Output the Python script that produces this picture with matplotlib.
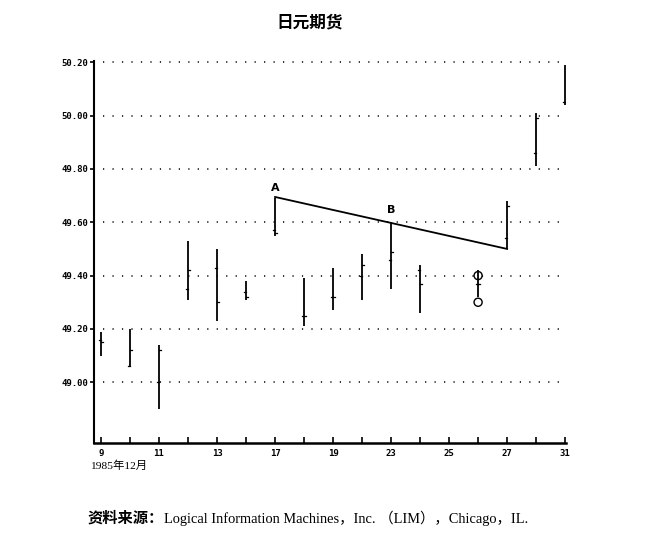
import matplotlib
matplotlib.use("Agg")
import matplotlib.pyplot as plt

# ---- data ----
tick_labels = ['9', '11', '13', '17', '19', '23', '25', '27', '31']
tick_index = [0, 2, 4, 6, 8, 10, 12, 14, 16]
all_ticks = list(range(17))

bar_pos = [0, 1, 2, 3, 4, 5, 6, 7, 8, 9, 10, 11, 13, 14, 15, 16]
highs = [49.19, 49.20, 49.14, 49.53, 49.50, 49.38, 49.69, 49.39, 49.43, 49.48, 49.60, 49.44, 49.42, 49.68, 50.01, 50.19]
lows = [49.10, 49.06, 48.90, 49.31, 49.23, 49.31, 49.55, 49.21, 49.27, 49.31, 49.35, 49.26, 49.32, 49.50, 49.81, 50.04]
opens = [49.16, 49.06, 49.00, 49.35, 49.43, 49.34, 49.57, 49.25, 49.32, 49.40, 49.46, 49.42, 49.37, 49.54, 49.86, 50.05]
closes = [49.15, 49.12, 49.12, 49.42, 49.30, 49.32, 49.56, 49.25, 49.32, 49.44, 49.49, 49.37, 49.37, 49.66, 49.99, 50.05]

circle_pos = [13, 13]
circle_vals = [49.40, 49.30]

trend_x = [6, 14]
trend_y = [49.695, 49.50]

point_labels = ['A', 'B']
point_x = [6, 10]
point_y = [49.73, 49.645]

y_ticks = [49.00, 49.20, 49.40, 49.60, 49.80, 50.00, 50.20]

title = '日元期货'
xlabel = '1985年12月'
source_cn = '资料来源：'
source_en = 'Logical Information Machines，Inc. （LIM），Chicago，IL.'

# ---- figure ----
fig = plt.figure(figsize=(6.61, 5.35), dpi=100)
ax = fig.add_axes([94 / 661, 92 / 535, 472 / 661, 382 / 535])

ax.set_xlim(-0.24, 16.03)
ax.set_ylim(48.772, 50.205)

# grid
for y in y_ticks:
    ax.axhline(y, xmin=0.02, color='black', lw=1.1, linestyle=(0, (0.8, 5.4)), zorder=1)

# bars
tk = 0.06
for x, h, l, o, c in zip(bar_pos, highs, lows, opens, closes):
    ax.plot([x, x], [l, h], color='black', lw=1.3, solid_capstyle='butt', zorder=3)
    ax.plot([x - tk, x], [o, o], color='black', lw=0.9, zorder=3)
    ax.plot([x, x + tk], [c, c], color='black', lw=0.9, zorder=3)

ax.scatter(circle_pos, circle_vals, s=34, facecolors='none', edgecolors='black', linewidths=1.0, zorder=4)

ax.plot(trend_x, trend_y, color='black', lw=1.3, zorder=3)

for t, x, y in zip(point_labels, point_x, point_y):
    ax.text(x, y, t, ha='center', va='center', fontsize=8, fontweight='bold', family='DejaVu Sans')

# axes styling
for s in ['top', 'right']:
    ax.spines[s].set_visible(False)
ax.spines['left'].set_linewidth(1.5)
ax.spines['bottom'].set_linewidth(1.8)

ax.set_yticks(y_ticks)
ax.set_yticklabels(['%.2f' % v for v in y_ticks], fontsize=6.5, fontweight='bold', family='DejaVu Sans Mono')
ax.tick_params(axis='y', direction='out', length=3, width=1.2, pad=1)

ax.set_xticks(all_ticks)
ax.set_xticklabels(['' for _ in all_ticks])
ax.tick_params(axis='x', direction='in', length=4, width=1.2)
for t, i in zip(tick_labels, tick_index):
    ax.text(i, -0.028, t, transform=ax.get_xaxis_transform(), ha='center', va='center',
            fontsize=6.5, fontweight='bold', family='DejaVu Sans Mono')

fig.text(310 / 661, 1 - 22 / 535, title, ha='center', va='center', fontsize=12,
         fontweight='bold', family=['Noto Sans CJK SC', 'DejaVu Sans'])
fig.text(90 / 661, 1 - 466 / 535, xlabel, ha='left', va='center', fontsize=8.2,
         family=['Liberation Serif', 'Noto Sans CJK SC'])
fig.text(88 / 661, 1 - 518 / 535, source_cn, ha='left', va='center', fontsize=11,
         fontweight='bold', family=['Noto Sans CJK SC', 'DejaVu Sans'])
fig.text(164 / 661, 1 - 518 / 535, source_en, ha='left', va='center', fontsize=10.4,
         family=['Liberation Serif', 'Noto Sans CJK SC'])

fig.savefig('out.png', dpi=100)
